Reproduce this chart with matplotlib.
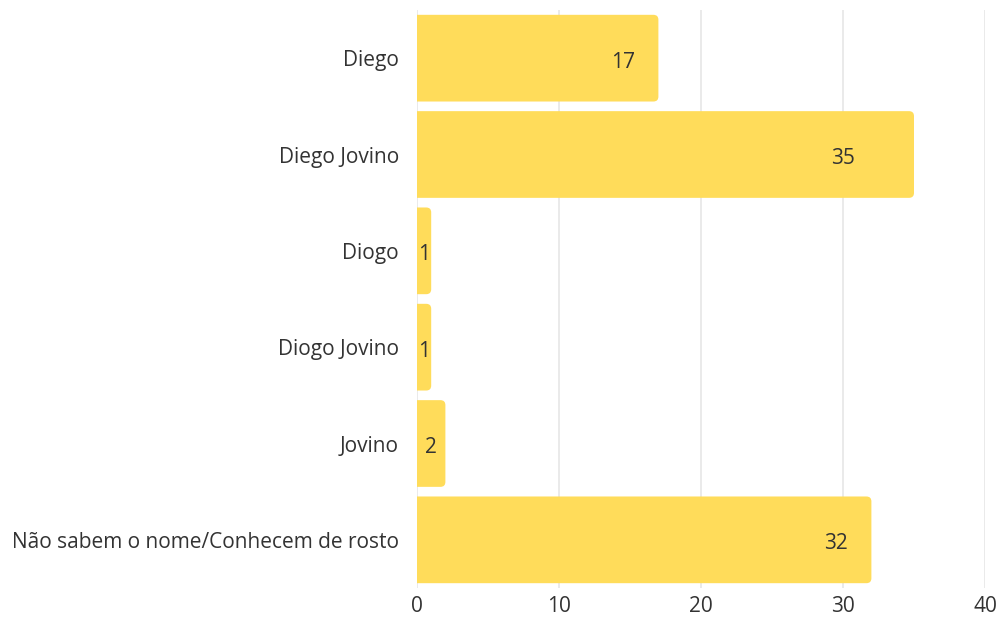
import matplotlib.pyplot as plt
from matplotlib.patches import FancyBboxPatch

plt.rcParams['font.family'] = ['Open Sans', 'DejaVu Sans']

# data
names = ["Diego", "Diego Jovino", "Diogo", "Diogo Jovino", "Jovino",
         "Não sabem o nome/Conhecem de rosto"]
counts = [17, 35, 1, 1, 2, 32]
xticks = [0, 10, 20, 30, 40]

bar_color = "#FFDC5A"
text_color = "#333333"

fig = plt.figure(figsize=(9.97, 6.17), dpi=100)
ax = fig.add_axes([417 / 997, 1 - 588 / 617, 568 / 997, 578 / 617])

pos = list(range(len(names)))
bars = ax.barh(pos, counts, height=0.9, color="none")
ax.set_xlim(0, 40)
ax.set_ylim(len(names) - 0.5, -0.5)

# rounded right corners (left end hidden behind axis edge)
rad = 0.35
for b in bars:
    y0 = b.get_y()
    h = b.get_height()
    w = b.get_width()
    p = FancyBboxPatch((-1, y0), w + 1, h,
                       boxstyle="round,pad=0,rounding_size=%f" % rad,
                       mutation_aspect=0.148, facecolor=bar_color,
                       edgecolor="none", zorder=2)
    ax.add_patch(p)

# value labels
for i, v in enumerate(counts):
    lx = max(min(v - 2.5, 30), v * 0.5)
    ax.text(lx, i + 0.04, str(v), ha="center", va="center",
            fontsize=15, color=text_color, zorder=3)

ax.set_xticks(xticks)
ax.set_yticks(pos)
ax.set_yticklabels(names)
ax.grid(axis="x", color="#e6e6e6", linewidth=1.2, zorder=0)
ax.set_axisbelow(True)
for s in ax.spines.values():
    s.set_visible(False)
ax.tick_params(axis="both", length=0, labelsize=15, colors=text_color)
ax.tick_params(axis="y", pad=13)
ax.tick_params(axis="x", pad=6)

plt.savefig("out.png", dpi=100)
